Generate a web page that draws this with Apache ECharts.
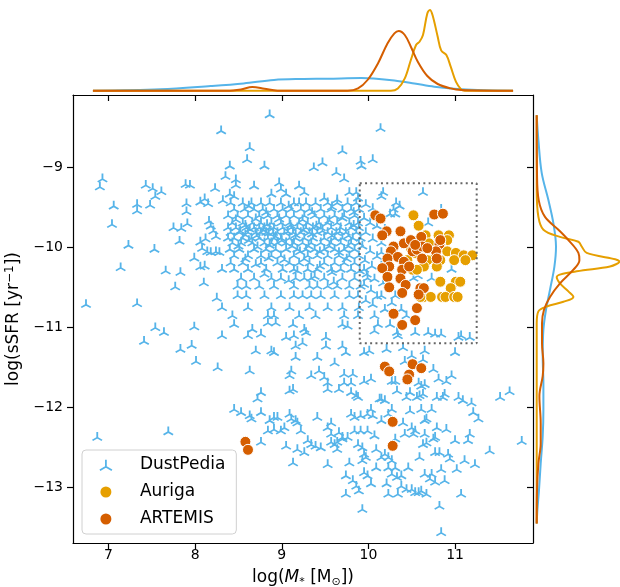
<!DOCTYPE html>
<html>
<head>
<meta charset="utf-8">
<title>sSFR vs stellar mass</title>
<script src="https://cdn.jsdelivr.net/npm/echarts@6/dist/echarts.min.js"></script>
<style>
  body { margin: 0; background: #fff; }
  #main { width: 620px; height: 587px; }
</style>
</head>
<body>
<div id="main"></div>
<script>
// tick positions
var xTicks = [7, 8, 9, 10, 11];
var yTicks = [-13, -12, -11, -10, -9];

// DustPedia galaxies, [log M*, log sSFR]
var dpLeft = [
  [8.30,-8.53],[6.93,-9.13],[6.90,-9.23],[7.43,-9.21],[7.51,-9.25],[7.61,-9.29],[7.54,-9.35],[7.89,-9.20],
  [7.94,-9.21],[8.23,-9.25],[8.35,-9.10],[7.06,-9.47],[7.33,-9.45],[7.33,-9.53],[7.48,-9.46],[7.90,-9.44],
  [7.90,-9.54],[8.06,-9.42],[8.11,-9.38],[8.15,-9.44],[8.32,-9.40],[7.04,-9.70],[7.75,-9.74],[7.84,-9.75],
  [7.91,-9.69],[7.82,-9.91],[8.16,-9.66],[8.18,-9.72],[8.21,-9.78],[8.24,-9.85],[8.06,-9.92],[8.12,-9.88],
  [8.08,-10.00],[8.14,-10.04],[8.18,-10.05],[8.24,-10.04],[8.28,-10.05],[7.23,-9.96],[7.53,-10.01],[7.99,-10.12],
  [7.14,-10.24],[7.66,-10.28],[7.83,-10.30],[8.06,-10.23],[8.11,-10.22],[8.31,-10.26],[8.10,-10.43],[7.77,-10.48],
  [6.74,-10.70],[7.33,-10.69],[8.25,-10.62],[8.31,-10.74],[7.54,-10.99],[7.64,-11.05],[7.41,-11.16],[7.99,-10.98],
  [7.96,-11.21],[7.83,-11.26],[8.01,-11.41],[8.31,-11.09],[8.26,-11.49],[6.87,-12.36],[7.69,-12.29]
];
var dpUpper = [
  [8.86,-8.33],[8.63,-8.74],[8.60,-8.89],[8.80,-8.97],[8.40,-8.97],[9.70,-8.78],[9.47,-8.93],[9.37,-8.99],
  [9.63,-9.05],[9.72,-9.13],[9.91,-8.91],[9.92,-8.97],[10.05,-8.89],[10.14,-8.50],[8.47,-9.14],[8.47,-9.21],
  [8.68,-9.22],[8.97,-9.18],[8.99,-9.26],[9.20,-9.22],[8.40,-9.32],[8.45,-9.35],[8.88,-9.32],[9.05,-9.32],
  [9.26,-9.30],[9.49,-9.37],[9.64,-9.39],[9.78,-9.30],[9.86,-9.30],[9.88,-9.37],[10.63,-9.30],[10.32,-9.43],
  [10.36,-9.47],[10.29,-9.51],[10.25,-9.57],[10.31,-9.57],[10.17,-9.30],[10.15,-9.35]
];
// dense band: one sSFR value per row, masses along the row
var bandY = [-9.43, -9.51, -9.59, -9.68, -9.74, -9.80, -9.87, -9.93, -10.01, -10.09, -10.18, -10.26, -10.37, -10.47, -10.59, -10.74, -10.84];
var bandX = [
  [8.41,8.55,8.65,8.76,8.86,8.99,9.14,9.20,9.28,9.39,9.53,9.64,9.76,9.86],
  [8.45,8.57,8.68,8.78,8.91,9.01,9.11,9.22,9.32,9.45,9.57,9.70,9.80,9.89],
  [8.38,8.49,8.61,8.74,8.84,8.95,9.05,9.14,9.26,9.38,9.49,9.61,9.72,9.84],
  [8.43,8.55,8.66,8.76,8.88,8.99,9.09,9.20,9.30,9.43,9.53,9.64,9.78,9.88],
  [8.38,8.47,8.59,8.68,8.74,8.80,8.86,8.91,9.01,9.11,9.18,9.28,9.36,9.45,9.57,9.68,9.80,9.89],
  [8.41,8.51,8.61,8.70,8.76,8.82,8.90,8.95,9.03,9.13,9.22,9.32,9.41,9.53,9.63,9.74,9.86],
  [8.38,8.45,8.55,8.65,8.74,8.84,8.91,8.99,9.09,9.16,9.26,9.36,9.49,9.61,9.70,9.82,9.91],
  [8.43,8.53,8.66,8.80,8.88,8.95,9.05,9.14,9.24,9.34,9.45,9.57,9.68,9.80,9.89],
  [8.40,8.51,8.68,8.82,8.93,9.05,9.18,9.28,9.38,9.49,9.61,9.72,9.84],
  [8.45,8.61,8.76,8.88,8.99,9.14,9.30,9.41,9.53,9.66,9.78,9.89],
  [8.41,8.55,8.76,8.95,9.09,9.20,9.32,9.49,9.61,9.72,9.84],
  [8.45,8.61,8.82,9.01,9.14,9.30,9.41,9.57,9.68,9.80,9.95],
  [8.53,8.68,8.88,8.99,9.16,9.26,9.34,9.49,9.70,9.84,9.99],
  [8.49,8.59,8.74,8.91,9.14,9.32,9.41,9.53,9.64,9.78,9.91],
  [8.49,8.59,8.80,8.99,9.14,9.24,9.34,9.45,9.61,9.78,9.88],
  [8.61,8.88,9.09,9.32,9.53,9.70,9.89],
  [8.43,8.84,8.91,9.20,9.39,9.72,9.88,10.07]
];
// extra points filling the solid core of the band
var bandCore = [
  [8.52,-9.78],[8.58,-9.83],[8.63,-9.76],[8.71,-9.84],[8.79,-9.77],[8.85,-9.81],[8.93,-9.85],[9.07,-9.79],
  [9.16,-9.83],[9.25,-9.77],[9.35,-9.82],[9.47,-9.78],[9.58,-9.84],[9.67,-9.79],[9.77,-9.84],[8.47,-9.64],
  [8.58,-9.71],[8.70,-9.63],[8.83,-9.70],[8.97,-9.63],[9.10,-9.71],[9.24,-9.64],[9.40,-9.72],[9.55,-9.65],
  [9.70,-9.62],[9.83,-9.71],[8.50,-9.97],[8.62,-9.90],[8.72,-9.98],[8.86,-9.96],[9.00,-9.90],[9.12,-9.97],
  [9.21,-10.04],[9.31,-9.97],[9.44,-10.04],[9.55,-9.97],[9.66,-10.05],[9.77,-9.97],[8.58,-10.13],[8.70,-10.20],
  [8.85,-10.12],[9.03,-10.14],[9.18,-10.28],[9.26,-10.13],[9.44,-10.22],[9.58,-10.30],[9.75,-10.13],[8.80,-10.32],
  [9.08,-10.40],[9.38,-10.35],[9.60,-10.42],[9.90,-10.28],[8.62,-9.47],[8.82,-9.55],[9.08,-9.47],[9.35,-9.55],
  [9.58,-9.48],[9.83,-9.55]
];
var dpBox = [
  [9.97,-9.45],[10.05,-9.50],[9.95,-9.62],[10.02,-9.68],[10.10,-9.72],[9.97,-9.80],[10.05,-9.88],[9.93,-9.97],
  [10.02,-10.03],[10.10,-10.10],[9.96,-10.15],[10.04,-10.22],[9.98,-10.32],[10.07,-10.38],[9.95,-10.45],[10.03,-10.52],
  [10.10,-10.60],[9.97,-10.65],[10.05,-10.70],[10.19,-9.76],[10.15,-9.93],[10.15,-10.05],[10.15,-10.22],[10.17,-10.43],
  [10.15,-10.59],[10.19,-10.76],[10.31,-10.59],[10.52,-10.37],[10.57,-10.34],[10.73,-10.37],[10.96,-10.26],[10.69,-9.68],
  [10.84,-9.51],[10.38,-10.76],[10.44,-10.84],[10.27,-10.68]
];
var dpLowMid = [
  [8.45,-10.95],[8.66,-11.01],[8.61,-11.09],[8.76,-11.07],[8.84,-10.93],[8.93,-10.93],[9.13,-10.95],[9.26,-11.01],
  [9.28,-11.05],[9.05,-11.11],[9.14,-11.09],[9.24,-11.18],[9.16,-11.22],[9.51,-11.11],[9.51,-11.22],[9.70,-11.22],
  [9.74,-11.30],[9.70,-10.95],[9.76,-10.97],[9.95,-11.30],[10.01,-11.28],[10.07,-11.03],[10.11,-10.95],[8.70,-11.28],
  [8.88,-11.28],[8.91,-11.30],[8.63,-11.53],[9.16,-11.36],[9.41,-11.36],[9.61,-11.43],[9.11,-11.53],[9.09,-11.59],
  [9.34,-11.59],[9.43,-11.53],[9.49,-11.61],[9.53,-11.68],[9.72,-11.57],[9.82,-11.57],[9.72,-11.68],[9.80,-11.68],
  [9.95,-11.66],[10.03,-11.63],[8.76,-11.80],[8.72,-11.88],[9.09,-11.78],[9.13,-11.76],[9.53,-11.76],[9.66,-11.76],
  [9.80,-11.80],[9.86,-11.84],[9.88,-11.86],[10.13,-11.88],[8.45,-12.01],[8.53,-12.05],[8.63,-12.09],[8.65,-12.13],
  [8.76,-12.05],[8.86,-12.15],[8.91,-12.11],[8.95,-12.11],[9.09,-12.07],[9.11,-12.13],[9.16,-12.15],[9.18,-12.18],
  [9.41,-12.11],[9.57,-12.18],[9.53,-12.24],[9.80,-12.07],[9.84,-12.11],[9.91,-12.09],[9.99,-12.07],[10.03,-12.01],
  [10.05,-12.09],[8.84,-12.28],[8.91,-12.26],[8.99,-12.28],[9.03,-12.24],[9.22,-12.28],[9.57,-12.32],[9.66,-12.30],
  [9.70,-12.36],[9.76,-12.36],[9.84,-12.28],[9.91,-12.28],[9.99,-12.28],[10.07,-12.34],[8.76,-12.42],[9.05,-12.47],
  [9.18,-12.51],[9.26,-12.55],[9.30,-12.40],[9.34,-12.45],[9.39,-12.47],[9.45,-12.49],[9.57,-12.42],[9.61,-12.45],
  [9.64,-12.42],[9.70,-12.38],[9.64,-12.51],[9.88,-12.45],[9.93,-12.49],[9.95,-12.57],[9.97,-12.61],[10.09,-12.51],
  [10.09,-12.74],[9.13,-12.68],[9.53,-12.70],[9.78,-12.68],[9.93,-12.65],[9.95,-12.80],[9.99,-12.84],[10.03,-12.94],
  [9.74,-12.84],[9.82,-12.90],[9.86,-12.97],[9.89,-13.03],[9.74,-13.07],[9.93,-13.26]
];
var dpLowRight = [
  [10.25,-10.95],[10.33,-11.05],[10.34,-11.09],[10.54,-11.05],[10.69,-11.05],[10.77,-11.07],[10.84,-11.07],[11.04,-11.11],
  [11.07,-11.09],[11.17,-11.11],[10.21,-11.26],[10.40,-11.24],[10.65,-11.28],[10.50,-11.34],[10.63,-11.39],[11.00,-11.30],
  [10.42,-11.41],[10.75,-11.51],[10.81,-11.63],[10.90,-11.66],[10.96,-11.59],[10.27,-11.66],[10.31,-11.66],[10.58,-11.68],
  [10.61,-11.72],[10.65,-11.70],[10.33,-11.78],[10.44,-11.86],[10.48,-11.80],[10.56,-11.86],[10.59,-11.84],[10.63,-11.82],
  [10.79,-11.86],[10.86,-11.86],[10.88,-11.82],[11.04,-11.86],[11.09,-11.90],[11.19,-11.93],[11.52,-11.86],[11.63,-11.79],
  [10.15,-11.88],[10.19,-11.90],[10.27,-12.01],[10.23,-12.07],[10.48,-12.03],[10.61,-12.01],[10.73,-12.01],[10.65,-12.15],
  [10.67,-12.13],[11.21,-12.05],[11.27,-12.13],[10.15,-12.15],[10.40,-12.18],[10.50,-12.24],[10.54,-12.28],[10.52,-12.32],
  [10.42,-12.32],[10.65,-12.32],[10.79,-12.24],[10.90,-12.26],[10.31,-12.38],[10.75,-12.38],[10.77,-12.36],[10.63,-12.45],
  [10.67,-12.43],[11.00,-12.40],[11.15,-12.40],[11.17,-12.32],[11.40,-12.53],[11.77,-12.41],[10.19,-12.57],[10.23,-12.61],
  [10.27,-12.65],[10.15,-12.61],[10.59,-12.61],[10.77,-12.55],[10.82,-12.55],[10.92,-12.57],[10.94,-12.63],[11.11,-12.65],
  [11.23,-12.70],[10.23,-12.74],[10.31,-12.74],[10.46,-12.74],[10.65,-12.82],[10.73,-12.82],[10.71,-12.88],[10.77,-12.92],
  [10.84,-12.76],[10.88,-12.90],[11.02,-12.76],[10.27,-12.82],[10.33,-12.86],[10.38,-12.84],[10.21,-12.94],[10.23,-13.07],
  [10.34,-13.07],[10.38,-12.97],[10.44,-13.01],[10.50,-13.01],[10.54,-13.05],[10.58,-13.05],[10.61,-13.03],[10.67,-13.07],
  [11.07,-13.07],[10.82,-13.22],[10.84,-13.55]
];

// Auriga simulations
var auriga = [
  [10.52,-9.60],[10.58,-9.73],[10.66,-9.85],[10.81,-9.85],[10.93,-9.85],[10.91,-9.91],[10.83,-9.97],[10.91,-10.05],
  [11.01,-10.07],[11.10,-10.10],[11.20,-10.10],[11.12,-10.16],[10.99,-10.16],[10.83,-10.16],[10.76,-10.14],[10.68,-10.16],
  [10.79,-10.24],[10.64,-10.24],[10.83,-10.43],[11.01,-10.43],[11.06,-10.43],[10.95,-10.51],[10.64,-10.62],[10.72,-10.62],
  [10.85,-10.62],[10.89,-10.62],[10.99,-10.62],[11.03,-10.62],[10.60,-10.62],[10.54,-10.07],[10.49,-10.01],[10.45,-10.16],
  [10.51,-10.28],[10.70,-9.95],[10.56,-10.28]
];
// ARTEMIS simulations
var artemis = [
  [10.08,-9.60],[10.14,-9.64],[10.76,-9.59],[10.86,-9.58],[10.21,-9.80],[10.16,-9.85],[10.37,-9.80],[10.61,-9.87],
  [10.82,-9.96],[10.83,-9.91],[10.29,-9.99],[10.41,-9.95],[10.49,-9.91],[10.51,-10.05],[10.56,-10.03],[10.62,-9.99],
  [10.26,-10.05],[10.34,-10.12],[10.41,-10.18],[10.22,-10.14],[10.24,-10.24],[10.16,-10.26],[10.22,-10.37],[10.39,-10.28],
  [10.47,-10.24],[10.62,-10.14],[10.78,-10.05],[10.79,-10.14],[10.68,-10.01],[10.54,-9.97],[10.37,-10.39],[10.43,-10.47],
  [10.39,-10.57],[10.24,-10.50],[10.60,-10.51],[10.64,-10.51],[10.58,-10.59],[10.29,-10.83],[10.39,-10.97],[10.56,-10.76],
  [10.54,-10.91],[10.19,-11.49],[10.24,-11.55],[10.51,-11.46],[10.61,-11.51],[10.47,-11.59],[10.45,-11.65],[10.28,-12.18],
  [10.28,-12.48],[8.58,-12.43],[8.61,-12.53]
];

// zoom-in box
var boxX = [9.90, 11.25];
var boxY = [-11.20, -9.20];

// marginal densities along log M* (top panel)
var topXDust = [6.82, 7.60, 8.18, 8.56, 8.91, 9.22, 9.53, 9.92, 10.06, 10.30, 10.53, 10.76, 10.99, 11.26, 11.67];
var topDDust = [0, 0.014, 0.047, 0.073, 0.107, 0.117, 0.12, 0.127, 0.123, 0.103, 0.073, 0.04, 0.02, 0.007, 0];
var topXAur = [6.82, 10.26, 10.34, 10.42, 10.49, 10.55, 10.59, 10.63, 10.68, 10.71, 10.74, 10.80, 10.84, 10.90, 10.95, 11.01, 11.07, 11.11, 11.67];
var topDAur = [0, 0, 0.023, 0.123, 0.307, 0.457, 0.49, 0.557, 0.773, 0.807, 0.757, 0.54, 0.403, 0.357, 0.24, 0.09, 0.013, 0, 0];
var topXArt = [6.82, 8.37, 8.53, 8.66, 8.80, 8.95, 9.76, 9.88, 9.99, 10.11, 10.22, 10.30, 10.35, 10.42, 10.49, 10.57, 10.68, 10.80, 10.95, 11.07, 11.67];
var topDArt = [0, 0, 0.013, 0.037, 0.02, 0, 0, 0.023, 0.107, 0.273, 0.473, 0.573, 0.597, 0.557, 0.44, 0.29, 0.147, 0.067, 0.023, 0.007, 0];

// marginal densities along log sSFR (right panel)
var rightYDust = [-8.35, -8.66, -9.07, -9.41, -9.70, -9.99, -10.24, -10.53, -10.78, -11.03, -11.36, -11.70, -12.03, -12.36, -12.70, -13.03, -13.28, -13.45];
var rightDDust = [0, 0.017, 0.05, 0.117, 0.167, 0.193, 0.177, 0.133, 0.093, 0.067, 0.06, 0.067, 0.067, 0.06, 0.04, 0.023, 0.007, 0];
var rightYAur = [-8.35, -9.28, -9.62, -9.78, -9.87, -9.93, -9.99, -10.07, -10.18, -10.24, -10.30, -10.37, -10.45, -10.55, -10.62, -10.68, -10.74, -10.80, -10.95, -13.45];
var rightDAur = [0, 0, 0.017, 0.067, 0.233, 0.417, 0.45, 0.5, 0.827, 0.733, 0.4, 0.2, 0.233, 0.317, 0.367, 0.267, 0.1, 0.017, 0, 0];
var rightYArt = [-8.35, -9.07, -9.41, -9.62, -9.78, -9.91, -10.07, -10.16, -10.28, -10.45, -10.62, -10.78, -10.95, -11.20, -11.45, -11.61, -11.86, -12.20, -12.45, -12.70, -13.03, -13.45];
var rightDArt = [0, 0.003, 0.02, 0.083, 0.217, 0.317, 0.417, 0.427, 0.367, 0.233, 0.133, 0.073, 0.053, 0.053, 0.067, 0.06, 0.027, 0.04, 0.04, 0.017, 0.003, 0];

var cDust = '#56B4E9', cAur = '#E69F00', cArt = '#D55E00';
var font = 'DejaVu Sans';
var triPath = 'path://M0,-1L0,0M0,0L-0.866,0.5M0,0L0.866,0.5';

var dust = dpLeft.concat(dpUpper, bandCore, dpBox, dpLowMid, dpLowRight);
bandY.forEach(function (y, i) {
  bandX[i].forEach(function (x) { dust.push([x, y]); });
});

function zip(a, b) {
  return a.map(function (v, i) { return [v, b[i]]; });
}
var boxLine = [[boxX[0], boxY[1]], [boxX[1], boxY[1]], [boxX[1], boxY[0]], [boxX[0], boxY[0]], [boxX[0], boxY[1]]];

function minus(v) { return String(v).replace('-', '\u2212'); }

var spine = { show: true, onZero: false, lineStyle: { color: '#000', width: 1.2 } };
var xMin = 6.59, xMax = 11.90, yMin = -13.694, yMax = -8.097;

var myChart = echarts.init(document.getElementById('main'));
var option = {
  animation: false,
  grid: [
    { left: 73, top: 95, width: 460, height: 448, outerBoundsMode: 'none' },
    { left: 73, top: 0, width: 460, height: 95, outerBoundsMode: 'none' },
    { left: 533, top: 95, width: 87, height: 448, outerBoundsMode: 'none' }
  ],
  xAxis: [
    {
      gridIndex: 0, type: 'value', min: xMin, max: xMax,
      axisLine: spine,
      axisTick: { show: true, length: 6, customValues: xTicks, lineStyle: { color: '#000', width: 1.2 } },
      axisLabel: { customValues: xTicks, fontSize: 14, fontFamily: font, color: '#000', margin: 5 },
      splitLine: { show: false },
      name: '{n|log(}{i|M}{sub|*}{n| [M}{sub|\u2299}{n|])}',
      nameLocation: 'middle', nameGap: 25,
      nameTextStyle: {
        rich: {
          n: { fontSize: 17, fontFamily: font, color: '#000', lineHeight: 20 },
          i: { fontSize: 17, fontFamily: font, fontStyle: 'italic', color: '#000', lineHeight: 20 },
          sub: { fontSize: 11, fontFamily: font, color: '#000', verticalAlign: 'bottom', lineHeight: 14 }
        }
      }
    },
    {
      gridIndex: 1, type: 'value', min: xMin, max: xMax,
      axisLine: spine,
      axisTick: { show: true, length: 6, customValues: xTicks, lineStyle: { color: '#000', width: 1.2 } },
      axisLabel: { show: false },
      splitLine: { show: false }
    },
    { gridIndex: 2, type: 'value', min: -0.037, max: 0.833, show: false }
  ],
  yAxis: [
    {
      gridIndex: 0, type: 'value', min: yMin, max: yMax,
      axisLine: spine,
      axisTick: { show: true, length: 6, customValues: yTicks, lineStyle: { color: '#000', width: 1.2 } },
      axisLabel: { customValues: yTicks, fontSize: 14, fontFamily: font, color: '#000', margin: 10, formatter: minus },
      splitLine: { show: false },
      name: '{n|log(sSFR [yr}{sup|\u22121}{n|])}',
      nameLocation: 'middle', nameGap: 38,
      nameTextStyle: {
        rich: {
          n: { fontSize: 17, fontFamily: font, color: '#000', lineHeight: 20 },
          sup: { fontSize: 12, fontFamily: font, color: '#000', verticalAlign: 'top', lineHeight: 12 }
        }
      }
    },
    { gridIndex: 1, type: 'value', min: -0.043, max: 0.907, show: false },
    {
      gridIndex: 2, type: 'value', min: yMin, max: yMax, position: 'left',
      axisLine: spine,
      axisTick: { show: true, length: 6, customValues: yTicks, lineStyle: { color: '#000', width: 1.2 } },
      axisLabel: { show: false },
      splitLine: { show: false }
    }
  ],
  legend: {
    orient: 'vertical', left: 82, top: 450,
    padding: [5, 11, 5, 17], itemGap: 7, itemWidth: 12, itemHeight: 11,
    backgroundColor: 'rgba(255,255,255,0.8)', borderColor: '#d0d0d0', borderWidth: 1, borderRadius: 4,
    formatter: function (name) { return '{t|' + name + '}'; },
    textStyle: {
      fontSize: 17, fontFamily: font, color: '#000', lineHeight: 20,
      rich: { t: { fontSize: 17, fontFamily: font, color: '#000', lineHeight: 20, padding: [0, 0, 0, 23] } }
    },
    data: [
      { name: 'DustPedia', icon: triPath, itemStyle: { color: 'rgba(0,0,0,0)', borderColor: cDust, borderWidth: 1.8 } },
      { name: 'Auriga', icon: 'circle', itemStyle: { color: cAur, borderWidth: 0 } },
      { name: 'ARTEMIS', icon: 'circle', itemStyle: { color: cArt, borderWidth: 0 } }
    ]
  },
  series: [
    {
      name: 'DustPedia', type: 'scatter', data: dust,
      symbol: triPath, symbolSize: [9.5, 8.2],
      itemStyle: { color: 'rgba(0,0,0,0)', borderColor: cDust, borderWidth: 1.7, opacity: 1 }
    },
    {
      name: 'Auriga', type: 'scatter', data: auriga, symbolSize: 11,
      itemStyle: { color: cAur, borderColor: '#fff', borderWidth: 1, opacity: 1 }
    },
    {
      name: 'ARTEMIS', type: 'scatter', data: artemis, symbolSize: 11,
      itemStyle: { color: cArt, borderColor: '#fff', borderWidth: 1, opacity: 1 }
    },
    {
      type: 'line', data: boxLine, symbol: 'none', z: 3,
      lineStyle: { color: '#666', width: 2, type: [2, 3.3] }
    },
    // top marginals
    { type: 'line', xAxisIndex: 1, yAxisIndex: 1, data: zip(topXDust, topDDust), symbol: 'none', smooth: 0.35,
      lineStyle: { color: cDust, width: 2 } },
    { type: 'line', xAxisIndex: 1, yAxisIndex: 1, data: zip(topXAur, topDAur), symbol: 'none', smooth: 0.35,
      lineStyle: { color: cAur, width: 2 } },
    { type: 'line', xAxisIndex: 1, yAxisIndex: 1, data: zip(topXArt, topDArt), symbol: 'none', smooth: 0.35,
      lineStyle: { color: cArt, width: 2 } },
    // right marginals
    { type: 'line', xAxisIndex: 2, yAxisIndex: 2, data: zip(rightDDust, rightYDust), symbol: 'none', smooth: 0.35,
      lineStyle: { color: cDust, width: 2 } },
    { type: 'line', xAxisIndex: 2, yAxisIndex: 2, data: zip(rightDAur, rightYAur), symbol: 'none', smooth: 0.35,
      lineStyle: { color: cAur, width: 2 } },
    { type: 'line', xAxisIndex: 2, yAxisIndex: 2, data: zip(rightDArt, rightYArt), symbol: 'none', smooth: 0.35,
      lineStyle: { color: cArt, width: 2 } }
  ]
};
myChart.setOption(option);
</script>
</body>
</html>
